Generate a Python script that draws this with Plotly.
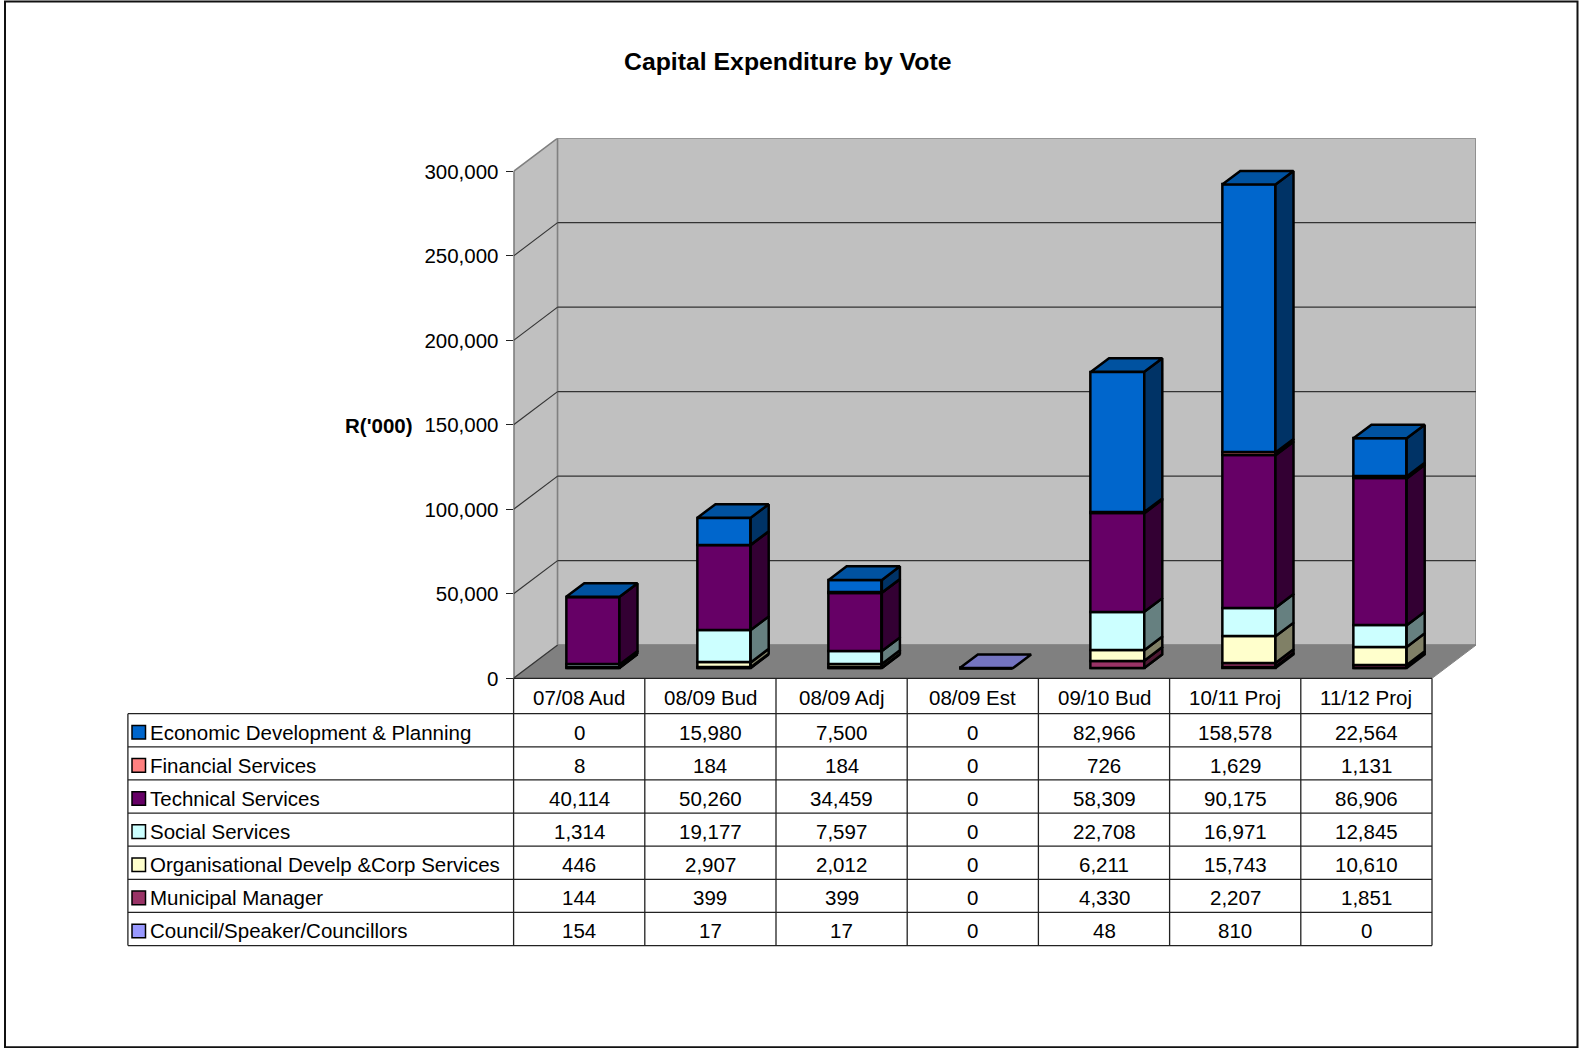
import plotly.graph_objects as go

# ---------------- data ----------------
categories = ["07/08 Aud", "08/09 Bud", "08/09 Adj", "08/09 Est", "09/10 Bud", "10/11 Proj", "11/12 Proj"]

econ_dev = [0, 15980, 7500, 0, 82966, 158578, 22564]
financial = [8, 184, 184, 0, 726, 1629, 1131]
technical = [40114, 50260, 34459, 0, 58309, 90175, 86906]
social = [1314, 19177, 7597, 0, 22708, 16971, 12845]
organisational = [446, 2907, 2012, 0, 6211, 15743, 10610]
municipal_mgr = [144, 399, 399, 0, 4330, 2207, 1851]
council = [154, 17, 17, 0, 48, 810, 0]

series_names = ["Economic Development & Planning", "Financial Services", "Technical Services",
                "Social Services", "Organisational Develp &Corp Services", "Municipal Manager",
                "Council/Speaker/Councillors"]
series_values = [econ_dev, financial, technical, social, organisational, municipal_mgr, council]

y_tick_values = [0, 50000, 100000, 150000, 200000, 250000, 300000]
title_text = "Capital Expenditure by Vote"
y_title = "R('000)"

# ---------------- styles ----------------
front_colors = ["#0066CC", "#FF8080", "#660066", "#CCFFFF", "#FFFFCC", "#993366", "#9999FF"]
side_colors = ["#003366", "#804040", "#330033", "#668080", "#808066", "#4D1933", "#4D4D80"]
top_colors = ["#0052A0", "#C86464", "#500050", "#A0C8C8", "#C8C8A0", "#782850", "#7474C0"]

W = 1579
REF_H = 1048
H = 1060                 # capture height observed for the page
YS = H / REF_H
FONT = "Liberation Sans, Arial, sans-serif"
FS = 20.5

AX_X = 513.6      # pixel x of front y-axis
FLOOR_Y = 677.7   # pixel y of value 0 on front plane (reference px)
TOP_Y = 171.2     # pixel y of top tick on front plane
COL_W = 131.2     # pixel width of one category column
DX_PX, DY_PX = 44.0, 33.2   # 3D depth offset in pixels
FZ, FB = 0.31, 0.72         # bar front/back depth fraction
BW = 0.406                  # bar width (category units)

ncat = len(categories)
ymax_tick = y_tick_values[-1]
ppu = (FLOOR_Y - TOP_Y) / ymax_tick
DXc = DX_PX / COL_W
DYv = DY_PX / ppu


def px(x):
    return x / W


def py(y):
    return 1 - (y * YS) / H


fig = go.Figure()

# stacking order: bottom -> top (reverse of table order)
order = list(range(len(series_names)))[::-1]

cum = [0.0] * ncat
side_x = {k: [] for k in order}
side_y = {k: [] for k in order}
for k in order:
    vals = series_values[k]
    xs = [i + FZ * DXc for i in range(ncat)]
    bases = [cum[i] + FZ * DYv for i in range(ncat)]
    fig.add_trace(go.Bar(
        x=xs, y=vals, base=bases, width=BW, name=series_names[k],
        marker=dict(color=front_colors[k], line=dict(color="black", width=2.5)),
        showlegend=False, hoverinfo="skip"))
    d = FB - FZ
    for i in range(ncat):
        v = vals[i]
        if v > 0:
            xr = xs[i] + BW / 2
            y0 = bases[i]
            y1 = bases[i] + v
            side_x[k] += [xr, xr + d * DXc, xr + d * DXc, xr, xr, None]
            side_y[k] += [y0, y0 + d * DYv, y1 + d * DYv, y1, y0, None]
        cum[i] += v

for k in order:
    if side_x[k]:
        fig.add_trace(go.Scatter(
            x=side_x[k], y=side_y[k], mode="lines", fill="toself",
            fillcolor=side_colors[k], line=dict(color="black", width=2.5),
            showlegend=False, hoverinfo="skip"))

# top faces
d = FB - FZ
for i in range(ncat):
    total = cum[i]
    k = order[-1] if total > 0 else order[0]
    xl = i + FZ * DXc - BW / 2
    xr = i + FZ * DXc + BW / 2
    y0 = total + FZ * DYv
    fig.add_trace(go.Scatter(
        x=[xl, xr, xr + d * DXc, xl + d * DXc, xl],
        y=[y0, y0, y0 + d * DYv, y0 + d * DYv, y0],
        mode="lines", fill="toself", fillcolor=top_colors[k],
        line=dict(color="black", width=2.5), showlegend=False, hoverinfo="skip"))

# ---------------- walls / floor / gridlines (shapes below traces) ----------------
x_left = -0.5
x_right = ncat - 0.5
shapes = []


def poly(pts):
    return "M " + " L ".join(f"{a},{b}" for a, b in pts) + " Z"


shapes.append(dict(type="path", xref="x", yref="y", layer="below",
                   path=poly([(x_left, 0), (x_left, ymax_tick), (x_left + DXc, ymax_tick + DYv), (x_left + DXc, DYv)]),
                   fillcolor="#C0C0C0", line=dict(color="#808080", width=1.5)))
shapes.append(dict(type="path", xref="x", yref="y", layer="below",
                   path=poly([(x_left + DXc, DYv), (x_right + DXc, DYv), (x_right + DXc, ymax_tick + DYv), (x_left + DXc, ymax_tick + DYv)]),
                   fillcolor="#C0C0C0", line=dict(color="#808080", width=1.5)))
shapes.append(dict(type="path", xref="x", yref="y", layer="below",
                   path=poly([(x_left, 0), (x_right, 0), (x_right + DXc, DYv), (x_left + DXc, DYv)]),
                   fillcolor="#808080", line=dict(color="#808080", width=1)))
for v in y_tick_values[1:-1]:
    shapes.append(dict(type="line", xref="x", yref="y", layer="below",
                       x0=x_left + DXc, x1=x_right + DXc, y0=v + DYv, y1=v + DYv,
                       line=dict(color="#333333", width=1.2)))
    shapes.append(dict(type="line", xref="x", yref="y", layer="below",
                       x0=x_left, x1=x_left + DXc, y0=v, y1=v + DYv,
                       line=dict(color="#333333", width=1.2)))
# floor left diagonal
shapes.append(dict(type="line", xref="x", yref="y", layer="below",
                   x0=x_left, x1=x_left + DXc, y0=0, y1=DYv, line=dict(color="#333333", width=1.2)))
# front axis line
shapes.append(dict(type="line", xref="x", yref="y", layer="above",
                   x0=x_left, x1=x_left, y0=0, y1=ymax_tick, line=dict(color="#555555", width=1.5)))

# ---------------- data table ----------------
TBL_LEFT = 127.9
TBL_RIGHT = AX_X + ncat * COL_W
HDR_BOT = 713.0
RH = 33.09
nrows = len(series_names)
TBL_BOT = HDR_BOT + nrows * RH
lc = "#222222"
lw = 1.3

# header top edge (floor front edge)
shapes.append(dict(type="line", xref="paper", yref="paper", x0=px(AX_X), x1=px(TBL_RIGHT),
                   y0=py(FLOOR_Y), y1=py(FLOOR_Y), line=dict(color=lc, width=lw)))
for r in range(nrows + 1):
    yy = HDR_BOT + r * RH
    shapes.append(dict(type="line", xref="paper", yref="paper", x0=px(TBL_LEFT), x1=px(TBL_RIGHT),
                       y0=py(yy), y1=py(yy), line=dict(color=lc, width=lw)))
shapes.append(dict(type="line", xref="paper", yref="paper", x0=px(TBL_LEFT), x1=px(TBL_LEFT),
                   y0=py(HDR_BOT), y1=py(TBL_BOT), line=dict(color=lc, width=lw)))
for c in range(ncat + 1):
    xx = AX_X + c * COL_W
    shapes.append(dict(type="line", xref="paper", yref="paper", x0=px(xx), x1=px(xx),
                       y0=py(FLOOR_Y), y1=py(TBL_BOT), line=dict(color=lc, width=lw)))

annotations = []
for c, cat in enumerate(categories):
    annotations.append(dict(xref="paper", yref="paper", x=px(AX_X + (c + 0.5) * COL_W),
                            y=py((FLOOR_Y + HDR_BOT) / 2 + 1), text=cat, showarrow=False,
                            xanchor="center", yanchor="middle", font=dict(size=FS, color="black", family=FONT)))
for r, (name, vals) in enumerate(zip(series_names, series_values)):
    yc = HDR_BOT + (r + 0.5) * RH + 2
    shapes.append(dict(type="rect", xref="paper", yref="paper",
                       x0=px(132), x1=px(145.5), y0=py(yc - 6.8), y1=py(yc + 6.8),
                       fillcolor=front_colors[r], line=dict(color="black", width=1.5)))
    annotations.append(dict(xref="paper", yref="paper", x=px(147.5), y=py(yc), text=name,
                            showarrow=False, xanchor="left", yanchor="middle",
                            font=dict(size=FS, color="black", family=FONT)))
    for c in range(ncat):
        annotations.append(dict(xref="paper", yref="paper", x=px(AX_X + (c + 0.5) * COL_W), y=py(yc),
                                text=f"{vals[c]:,}", showarrow=False, xanchor="center", yanchor="middle",
                                font=dict(size=FS, color="black", family=FONT)))

annotations.append(dict(xref="paper", yref="paper", x=px(787.5), y=py(61.5), text=f"<b>{title_text}</b>",
                        showarrow=False, xanchor="center", yanchor="middle",
                        font=dict(size=24.8, color="black", family=FONT)))
annotations.append(dict(xref="paper", yref="paper", x=px(415), y=py(425), text=f"<b>{y_title}</b>",
                        showarrow=False, xanchor="right", yanchor="middle",
                        font=dict(size=FS, color="black", family=FONT)))

# outer frame
shapes.append(dict(type="rect", xref="paper", yref="paper", x0=px(5), x1=px(1577.5), y0=py(1.5), y1=py(1046.3),
                   line=dict(color="#111111", width=2), fillcolor="rgba(0,0,0,0)"))

fig.update_layout(
    width=W, height=H, autosize=False,
    margin=dict(l=0, r=0, t=0, b=0),
    paper_bgcolor="white", plot_bgcolor="white",
    barmode="overlay", bargap=0,
    shapes=shapes, annotations=annotations,
    font=dict(family=FONT, size=FS, color="black"),
    xaxis=dict(domain=[px(AX_X), px(AX_X + ncat * COL_W + DX_PX)], range=[x_left, x_right + DXc],
               showgrid=False, zeroline=False, showline=False, showticklabels=False, ticks="", fixedrange=True),
    yaxis=dict(domain=[py(FLOOR_Y), py(TOP_Y - DY_PX)], range=[0, ymax_tick + DYv],
               tickvals=y_tick_values, tickformat=",", ticks="outside", ticklen=7, tickwidth=1.2,
               tickcolor="#222222", showgrid=False, zeroline=False, showline=False,
               ticklabelstandoff=3,
               tickfont=dict(size=FS, color="black", family=FONT), fixedrange=True),
    showlegend=False,
)

fig.write_html("out.html")
